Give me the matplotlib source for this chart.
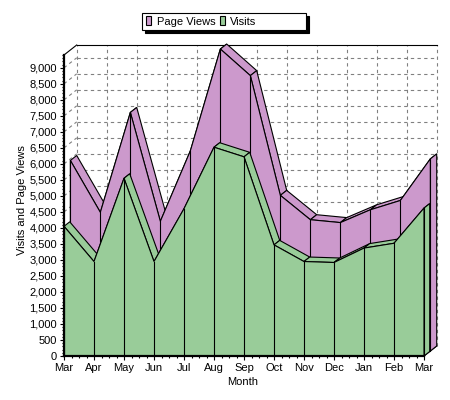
import matplotlib
matplotlib.use("Agg")
import matplotlib.pyplot as plt
from matplotlib.patches import Polygon, Patch, Rectangle
from matplotlib.ticker import MultipleLocator, FuncFormatter

months = ["Mar", "Apr", "May", "Jun", "Jul", "Aug", "Sep",
          "Oct", "Nov", "Dec", "Jan", "Feb", "Mar"]
page_views = [5950, 4330, 7450, 4050, 6250, 9430, 8600,
              4860, 4100, 4010, 4410, 4700, 6000]
visits = [4050, 2950, 5550, 2950, 4600, 6520, 6220,
          3470, 2950, 2920, 3370, 3520, 4620]

PURPLE = "#cc99cc"
GREEN = "#99cc99"
GRID = "#808080"

plt.rcParams["font.family"] = ["Liberation Sans", "DejaVu Sans"]

# figure / plot geometry in pixels (dpi 100)
W, H = 450, 400
L, B, AW, AH = 64, 44, 360, 301
YMAX = 9400
DEPTH = (12.7, 10.0)   # oblique depth offset of the back wall, px

fig = plt.figure(figsize=(W / 100, H / 100), dpi=100)
ax = fig.add_axes([L / W, B / H, AW / W, AH / H])
n = len(months)
ax.set_xlim(0, n - 1)
ax.set_ylim(0, YMAX)

ddx = DEPTH[0] * (n - 1) / AW
ddy = DEPTH[1] * YMAX / AH


def shift(pts, d):
    return [(x + d * ddx, y + d * ddy) for x, y in pts]


# back wall / left wall grid
dash = dict(color=GRID, lw=0.8, ls=(0, (3, 3)), clip_on=False, zorder=1)
for v in range(500, 9001, 500):
    ax.plot([ddx, n - 1 + ddx], [v + ddy, v + ddy], **dash)
    ax.plot([0, ddx], [v, v + ddy], **dash)
for i in range(n):
    ax.plot([i + ddx, i + ddx], [ddy, YMAX + ddy], **dash)
solid = dict(color="black", lw=0.8, clip_on=False, zorder=1.5)
ax.plot([ddx, n - 1 + ddx], [YMAX + ddy, YMAX + ddy], **solid)
ax.plot([0, ddx], [YMAX, YMAX + ddy], **solid)
ax.plot([n - 1, n - 1 + ddx], [0, ddy], **solid)


def draw_series(vals, color, d0, d1, z):
    front = list(zip(range(len(vals)), vals))
    kw = dict(fc=color, ec="black", lw=0.8, clip_on=False)
    for i in range(len(front) - 1):
        a, b = front[i], front[i + 1]
        quad = shift([a, b], d0) + shift([b, a], d1)
        ax.add_patch(Polygon(quad, zorder=z, **kw))
    end = [(len(vals) - 1, 0), front[-1]]
    ax.add_patch(Polygon(shift(end, d0) + shift(end[::-1], d1), zorder=z, **kw))
    face = [(0, 0)] + front + [(len(vals) - 1, 0)]
    ax.add_patch(Polygon(shift(face, d0), zorder=z + 0.1, **kw))
    for x, v in front:
        seg = shift([(x, 0), (x, v)], d0)
        ax.plot([p[0] for p in seg], [p[1] for p in seg], color="black",
                lw=0.8, clip_on=False, zorder=z + 0.2)


draw_series(page_views, PURPLE, 0.5, 1.0, 3)
draw_series(visits, GREEN, 0.0, 0.45, 4)

# axes
for s in ["top", "right"]:
    ax.spines[s].set_visible(False)
for s in ["left", "bottom"]:
    ax.spines[s].set_linewidth(1.6)
    ax.spines[s].set_zorder(10)
ax.set_facecolor("white")
ax.set_xticks(range(n))
ax.set_xticklabels(months)
ax.xaxis.set_minor_locator(MultipleLocator(0.25))
ax.yaxis.set_major_locator(MultipleLocator(500))
ax.yaxis.set_minor_locator(MultipleLocator(100))
ax.yaxis.set_major_formatter(FuncFormatter(lambda v, p: f"{v:,.0f}"))
ax.tick_params(which="major", length=3, width=0.8, labelsize=8, pad=2)
ax.tick_params(which="minor", length=1.5, width=0.8)

ax.set_xlabel("Month", fontsize=8)
ax.xaxis.set_label_coords((243 - L) / AW, (356 - 377) / AH)
ax.set_ylabel("Visits and Page Views", fontsize=8)
ax.yaxis.set_label_coords((27 - L) / AW, (356 - 200) / AH)

# legend box with hard black shadow
bx, by, bw, bh = 142, 13, 164, 17
fig.add_artist(Rectangle(((bx + 3) / W, 1 - (by + bh + 3) / H), bw / W, bh / H,
                         transform=fig.transFigure, fc="black", ec="black",
                         lw=0.8, zorder=20))
fig.add_artist(Rectangle((bx / W, 1 - (by + bh) / H), bw / W, bh / H,
                         transform=fig.transFigure, fc="white", ec="black",
                         lw=0.8, zorder=21))
handles = [Patch(fc=PURPLE, ec="black", lw=0.8, label="Page Views"),
           Patch(fc=GREEN, ec="black", lw=0.8, label="Visits")]
leg = fig.legend(handles=handles, loc="center left", ncol=2,
                 bbox_to_anchor=((bx + 4) / W, 1 - (by + bh / 2) / H),
                 fontsize=8, frameon=False,
                 handlelength=0.45, handleheight=0.8, handletextpad=0.5,
                 columnspacing=0.4, borderpad=0, borderaxespad=0)
leg.set_zorder(22)

fig.savefig("out.png", dpi=100)
